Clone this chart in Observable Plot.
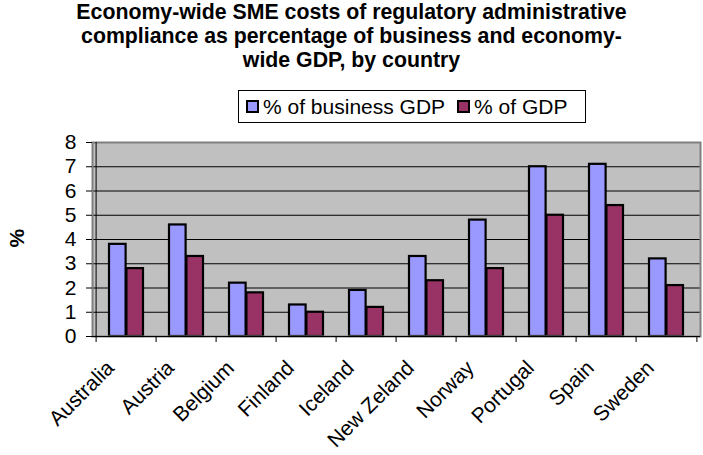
<!DOCTYPE html>
<html>
<head>
<meta charset="utf-8">
<script src="https://cdn.jsdelivr.net/npm/d3@7"></script>
<script src="https://cdn.jsdelivr.net/npm/@observablehq/plot@0.6"></script>
<style>
  html, body { margin: 0; padding: 0; background: #fff; }
  body { width: 703px; height: 455px; position: relative; overflow: hidden;
         font-family: "Liberation Sans", Arial, sans-serif; color: #000; }
  #title { position: absolute; left: 0; top: 0; width: 703px; text-align: center;
           font-weight: bold; font-size: 21.3px; line-height: 24px; }
  #legend { position: absolute; left: 238px; top: 90px; width: 348px; height: 33px;
            border: 1px solid #000; box-sizing: border-box; background: #fff;
            display: flex; align-items: center; font-size: 21px; white-space: nowrap; }
  #legend .item { display: flex; align-items: center; }
  #legend .sw { width: 9px; height: 9px; border: 2px solid #000; margin: 0 4px 0 7px; }
  #chart { position: absolute; left: 0; top: 128px; }
</style>
</head>
<body>
<div id="title">Economy-wide SME costs of regulatory administrative<br>compliance as percentage of business and economy-<br>wide GDP, by country</div>
<div id="legend"></div>
<div id="chart"></div>
<script>
const countries = ["Australia", "Austria", "Belgium", "Finland", "Iceland", "New Zeland", "Norway", "Portugal", "Spain", "Sweden"];
const businessGDP = [3.8, 4.6, 2.2, 1.3, 1.9, 3.3, 4.8, 7.0, 7.1, 3.2];
const totalGDP = [2.8, 3.3, 1.8, 1.0, 1.2, 2.3, 2.8, 5.0, 5.4, 2.1];
const seriesNames = ["% of business GDP", "% of GDP"];
const seriesColors = ["#9999FF", "#993366"];
const yTicks = [0, 1, 2, 3, 4, 5, 6, 7, 8];
const yLabel = "%";

const rows = countries.map((c, i) => ({country: c, business: businessGDP[i], total: totalGDP[i]}));

// legend
const legend = document.getElementById("legend");
seriesNames.forEach((name, i) => {
  const item = document.createElement("span");
  item.className = "item";
  if (i > 0) item.style.marginLeft = "5px";
  const sw = document.createElement("span");
  sw.className = "sw";
  sw.style.background = seriesColors[i];
  const t = document.createElement("span");
  t.textContent = name;
  item.appendChild(sw);
  item.appendChild(t);
  legend.appendChild(item);
});

const W = 703, ML = 92, MR = 3;
const band = (W - ML - MR) / countries.length;
const barW = 17.4;
const outer = (band - 2 * barW) / 2;

const chart = Plot.plot({
  width: W,
  height: 327,
  marginTop: 14,
  marginBottom: 119,
  marginLeft: ML,
  marginRight: MR,
  x: {domain: countries, padding: 0, axis: null},
  y: {domain: [yTicks[0], yTicks[yTicks.length - 1]], axis: null},
  style: {fontFamily: "'Liberation Sans', Arial, sans-serif", fontSize: "21px", background: "transparent", color: "#000", overflow: "visible"},
  marks: [
    Plot.frame({fill: "#c0c0c0"}),
    Plot.ruleY(yTicks.slice(1, -1), {stroke: "#000", strokeWidth: 1}),
    Plot.barY(rows, {x: "country", y: "business", fill: seriesColors[0], stroke: "#000", strokeWidth: 2.2,
      insetLeft: outer, insetRight: band - outer - barW}),
    Plot.barY(rows, {x: "country", y: "total", fill: seriesColors[1], stroke: "#000", strokeWidth: 2.2,
      insetLeft: outer + barW, insetRight: outer}),
    Plot.frame({stroke: "#808080", strokeWidth: 2}),
    Plot.ruleY([yTicks[0]], {stroke: "#000", strokeWidth: 1}),
    Plot.ruleX([countries[0]], {dx: -band / 2, stroke: "#000", strokeWidth: 1}),
    Plot.axisY({ticks: yTicks, tickSize: 6, tickPadding: 10, fontSize: 21, label: null, tickFormat: d => String(d)}),
    Plot.axisX({ticks: countries, tickSize: 6, dx: -band / 2, label: null, tickFormat: () => ""}),
    Plot.axisX({ticks: [countries[countries.length - 1]], tickSize: 6, dx: band / 2, label: null, tickFormat: () => ""}),
    Plot.text(countries, {x: d => d, frameAnchor: "bottom", dy: 28, dx: -16, rotate: -45,
      textAnchor: "end", lineAnchor: "middle", fontSize: 21}),
    Plot.text([yLabel], {frameAnchor: "left", dx: -75, dy: 8, rotate: -90, fontWeight: "bold", fontSize: 21})
  ]
});
document.getElementById("chart").appendChild(chart);
</script>
</body>
</html>
